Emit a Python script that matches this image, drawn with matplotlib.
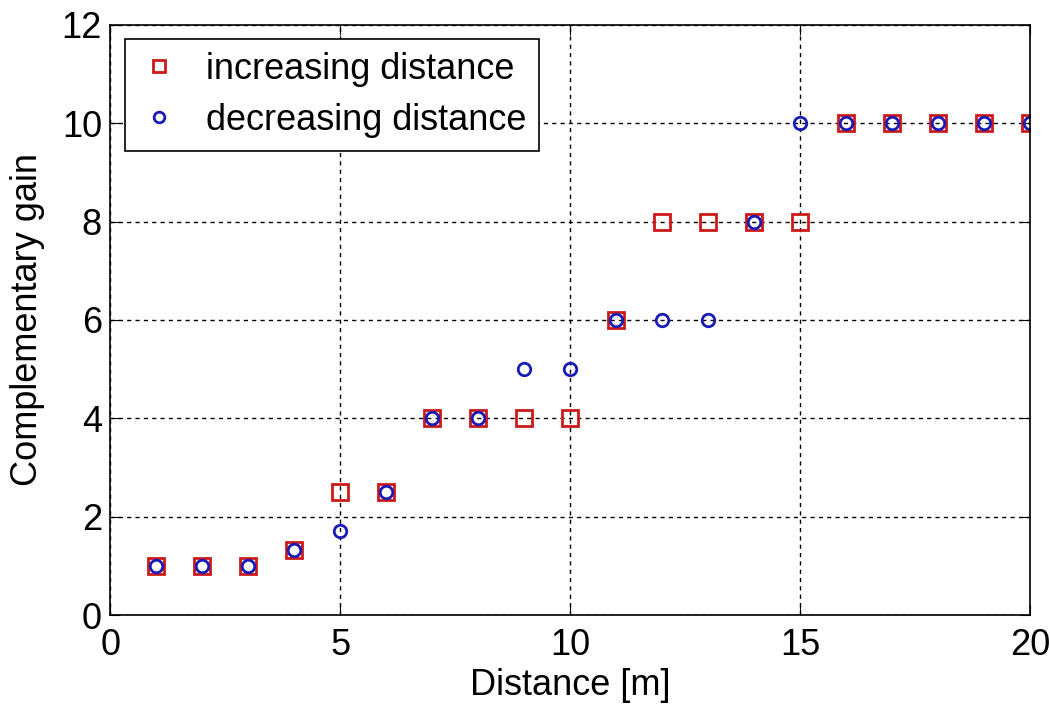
import matplotlib
matplotlib.use("Agg")
import matplotlib.pyplot as plt

distance = list(range(1, 21))
gain_increasing = [1, 1, 1, 1.33, 2.5, 2.5, 4, 4, 4, 4, 6, 8, 8, 8, 8, 10, 10, 10, 10, 10]
gain_decreasing = [1, 1, 1, 1.33, 1.7, 2.5, 4, 4, 5, 5, 6, 6, 6, 8, 10, 10, 10, 10, 10, 10]

plt.rcParams['font.family'] = ['Liberation Sans', 'DejaVu Sans']

fig = plt.figure(figsize=(10.5, 7.07), dpi=100)
ax = fig.add_axes([0.105, 0.130, 0.876, 0.835])

ax.plot(distance, gain_increasing, 's', markersize=11, markerfacecolor='none',
        markeredgecolor='#cc1a1a', markeredgewidth=2, label='increasing distance')
ax.plot(distance, gain_decreasing, 'o', markersize=9, markerfacecolor='none',
        markeredgecolor='#1a1ab4', markeredgewidth=2, label='decreasing distance')

ax.set_xlim(0, 20)
ax.set_ylim(0, 12)
ax.set_xticks([0, 5, 10, 15, 20])
ax.set_yticks([0, 2, 4, 6, 8, 10, 12])
ax.grid(True, color='black', linestyle=(0, (3, 3)), linewidth=1)
ax.tick_params(direction='in', length=7, labelsize=26, top=True, right=True)
ax.tick_params(axis='x', pad=9)
ax.tick_params(axis='y', pad=6)
for s in ax.spines.values():
    s.set_linewidth(1.2)

ax.set_xlabel('Distance [m]', fontsize=26, labelpad=4)
ax.set_ylabel('Complementary gain', fontsize=26, labelpad=12)

leg = ax.legend(loc='upper left', fontsize=26, fancybox=False, framealpha=1,
                edgecolor='black', borderaxespad=0.4, handletextpad=0.7,
                handlelength=1.2, labelspacing=0.45, borderpad=0.35,
                markerscale=0.85)
leg.get_frame().set_linewidth(1.2)

fig.savefig('out.png', dpi=100)
